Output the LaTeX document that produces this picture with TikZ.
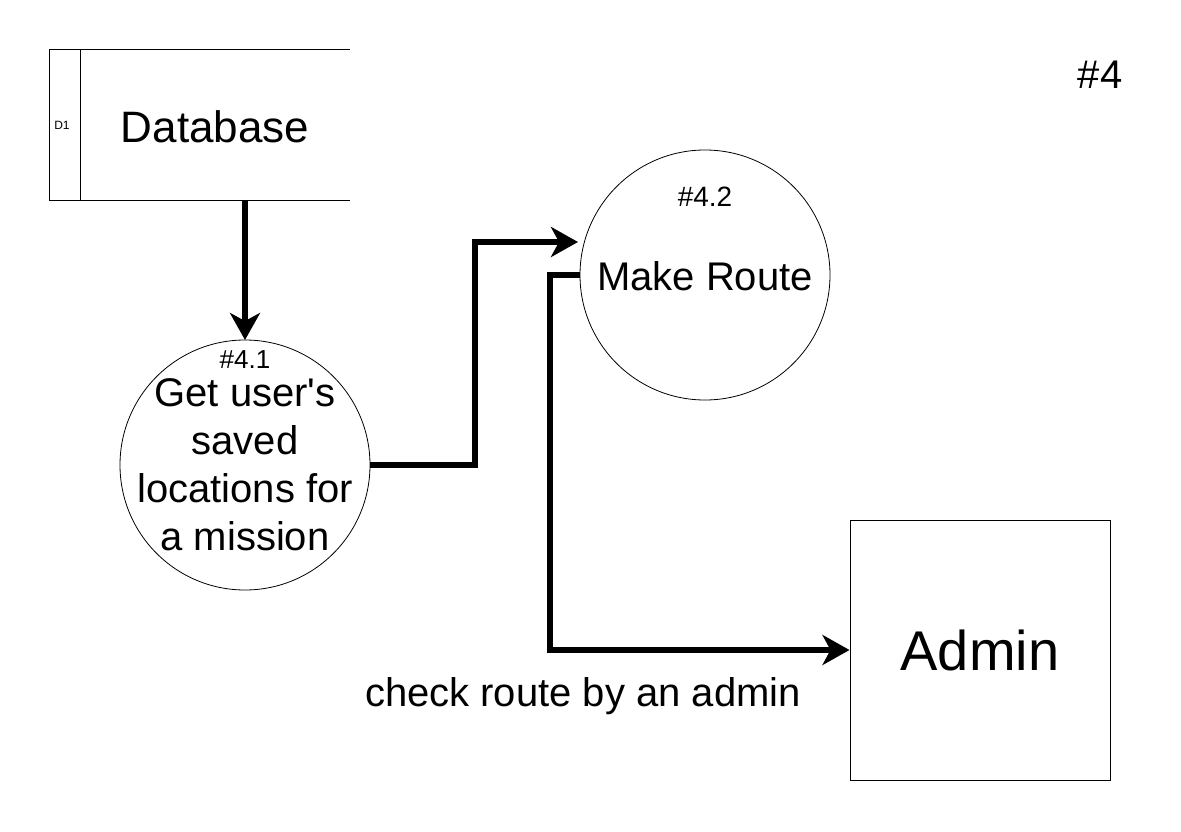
\documentclass[tikz,border=0pt]{standalone}
\usepackage{fontspec}
\setmainfont{Liberation Sans}
\usetikzlibrary{arrows.meta}
\begin{document}
\begin{tikzpicture}[x=1pt,y=-1pt,
  txt/.style={inner sep=0pt,align=center},
  proc/.style={circle,draw,line width=0.8pt,minimum size=250pt,inner sep=0pt},
  flow/.style={line width=6pt,-{Stealth[length=27pt,width=30pt,inset=8pt]}},
  thin/.style={line width=1pt}]
\useasboundingbox (0,0) rectangle (1181,832);
\fill[white] (0,0) rectangle (1181,832);
% data store
\node[minimum width=300pt,minimum height=150pt,inner sep=0pt] (ds) at (200,125) {};
\draw[thin] (ds.north east) -- (ds.north west) -- (ds.south west) -- (ds.south east);
\coordinate (dsdivT) at (80,50);
\coordinate (dsdivB) at (80,200);
\draw[thin] (dsdivT) -- (dsdivB);
\node[txt,font=\fontsize{12}{14}\selectfont] (d1) at (62,125) {D1};
\node[txt,font=\fontsize{44}{52}\selectfont] (dbtxt) at (215,127) {Database};
% title
\node[txt,font=\fontsize{40}{48}\selectfont] (title) at (1100,75) {\#4};
% processes
\node[proc] (p1) at (245,465) {};
\node[txt,font=\fontsize{26}{30}\selectfont] (p1id) at (245,360) {\#4.1};
\node[txt,font=\fontsize{40}{48}\selectfont] (p1txt) at (245,465) {Get user\textquotesingle s\\saved\\locations for\\a mission};
\node[proc] (p2) at (705,275) {};
\node[txt,font=\fontsize{28}{32}\selectfont] (p2id) at (705,197) {\#4.2};
\node[txt,font=\fontsize{40}{48}\selectfont] (p2txt) at (705,276) {Make Route};
% admin
\node[draw,thin,minimum width=260pt,minimum height=260pt,inner sep=0pt] (admin) at (980,650) {};
\node[txt,font=\fontsize{56}{64}\selectfont] (admintxt) at (980,650) {Admin};
% flows
\coordinate (a1s) at (245,200);
\coordinate (a1e) at (245,340);
\draw[flow] (a1s) -- (a1e);
\coordinate (a2s) at (370,465);
\coordinate (a2m1) at (475,465);
\coordinate (a2m2) at (475,242);
\coordinate (a2e) at (578,242);
\draw[flow] (a2s) -- (a2m1) -- (a2m2) -- (a2e);
\coordinate (a3s) at (580,275);
\coordinate (a3m1) at (550,275);
\coordinate (a3m2) at (550,650);
\draw[flow] (a3s) -- (a3m1) -- (a3m2) -- (admin.west);
\node[txt,font=\fontsize{40}{48}\selectfont] (lbl) at (583,696) {check route by an admin};
\end{tikzpicture}
\end{document}
